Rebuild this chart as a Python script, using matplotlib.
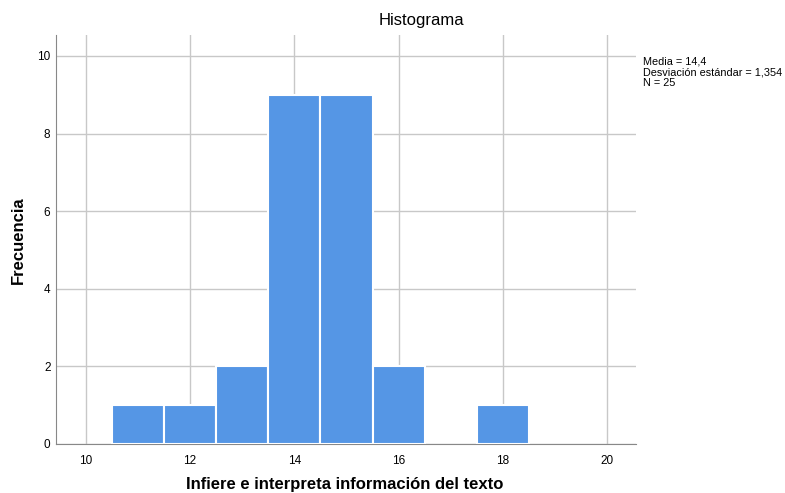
import matplotlib
matplotlib.use("Agg")
import matplotlib.pyplot as plt

plt.rcParams['font.family'] = ['Liberation Sans', 'DejaVu Sans']

# puntajes y frecuencias
puntajes = [11, 12, 13, 14, 15, 16, 18]
frecuencias = [1, 1, 2, 9, 9, 2, 1]
xticks = [10, 12, 14, 16, 18, 20]
yticks = [0, 2, 4, 6, 8, 10]
stats_txt = "Media = 14,4\nDesviación estándar = 1,354\nN = 25"

fig = plt.figure(figsize=(7.85, 4.93), dpi=100)
ax = fig.add_axes([56/785, 49/493, 580/785, 409/493])

ax.bar(puntajes, frecuencias, width=1.0, color='#5596E5', edgecolor='white', linewidth=1.5, zorder=3)

ax.set_xlim(9.43, 20.55)
ax.set_ylim(0, 10.54)
ax.set_xticks(xticks)
ax.set_yticks(yticks)
ax.grid(True, color='#c8c8c8', linewidth=1, zorder=0)
for s in ['top', 'right']:
    ax.spines[s].set_visible(False)
ax.spines['left'].set_color('#888888')
ax.spines['bottom'].set_color('#888888')
ax.tick_params(axis='x', length=0, labelsize=8.5, pad=8)
ax.tick_params(axis='y', length=0, labelsize=8.5, pad=4)

fig.text(345/785, 1 - 485/493, "Infiere e interpreta información del texto",
         ha='center', va='center', fontsize=12, fontweight='bold')
fig.text(18/785, 1 - 240/493, "Frecuencia", ha='center', va='center',
         rotation=90, fontsize=12, fontweight='bold')
fig.text(421/785, 1 - 21/493, "Histograma", ha='center', va='center', fontsize=12)
fig.text(643/785, 1 - 57/493, stats_txt, ha='left', va='top', fontsize=7.8, linespacing=1.05)

fig.savefig("out.png", dpi=100)
